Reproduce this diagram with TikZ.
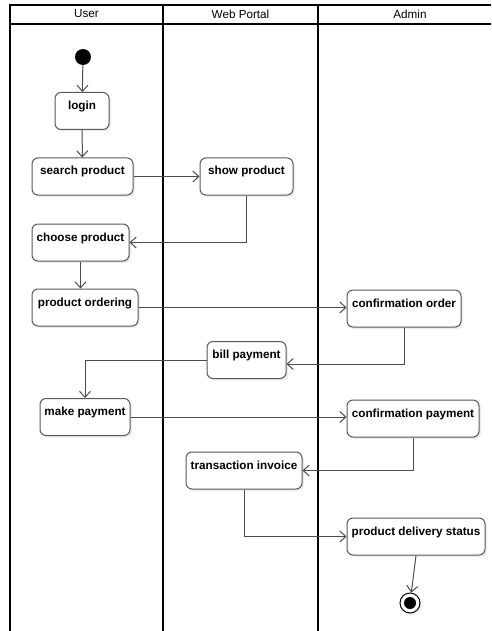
\documentclass[tikz,border=0pt]{standalone}
\usepackage{fontspec}
\setmainfont{Liberation Sans}
\usepackage{tikz}
\usetikzlibrary{arrows.meta,shadows}

\begin{document}
\begin{tikzpicture}[x=1pt, y=-1pt,
    lane/.style={line width=1.8pt, black},
    head/.style={font=\fontsize{11.7}{14}\selectfont, inner sep=0pt},
    act/.style={draw=black!65, line width=1pt, rounded corners=6pt, fill=white,
      drop shadow={opacity=0.15, shadow xshift=2pt, shadow yshift=-2pt},
      font=\fontsize{11.7}{14}\selectfont\bfseries, inner xsep=3pt, inner ysep=3pt,
      text height=14pt, text depth=17pt},
    flow/.style={draw=black!70, line width=1pt, -{Straight Barb[length=6pt,width=11pt]}}]
    \useasboundingbox (0,0) rectangle (491,631);

    % swimlanes
    \draw[lane] (10,631) -- (10,5) -- (491,5);
    \draw[line width=1.2pt] (10,24) -- (491,24);
    \draw[lane] (163,5) -- (163,631);
    \draw[lane] (318,5) -- (318,631);
    \node[head] (huser) at (86.5,14) {User};
    \node[head] (hportal) at (240.5,14) {Web Portal};
    \node[head] (hadmin) at (410,14) {Admin};

    % activities
    \node[circle, fill=black, minimum size=16pt, inner sep=0pt] (start) at (83,57) {};
    \node[act, minimum width=54pt] (login) at (82,111) {login};
    \node[act, minimum width=101pt] (search) at (82.5,176.5) {search product};
    \node[act, minimum width=93pt] (show) at (246.5,176.5) {show product};
    \node[act, minimum width=97pt] (choose) at (80.5,242.5) {choose product};
    \node[act, minimum width=106pt] (ordering) at (85,307.5) {product ordering};
    \node[act, minimum width=114pt] (confo) at (404,308.5) {confirmation order};
    \node[act, minimum width=79pt] (bill) at (246.5,360) {bill payment};
    \node[act, minimum width=90pt] (make) at (85,417) {make payment};
    \node[act, minimum width=132pt] (confp) at (413,418.5) {confirmation payment};
    \node[act, minimum width=116pt] (trans) at (244,470.5) {transaction invoice};
    \node[act, minimum width=138pt] (pds) at (416,536.5) {product delivery status};
    \node[circle, draw=black, line width=1pt, fill=white, minimum size=20pt, inner sep=0pt,
      drop shadow={opacity=0.15, shadow xshift=2pt, shadow yshift=-2pt}] (end) at (410,603) {};
    \node[circle, fill=black, minimum size=12pt, inner sep=0pt] (endin) at (end) {};

    % flows
    \draw[flow] (start) -- (login);
    \draw[flow] (login) -- (search);
    \draw[flow] (search) -- (show);
    \draw[flow] (show.south) |- (choose.east);
    \draw[flow] (choose.south) -- (choose.south |- ordering.north);
    \draw[flow] (ordering.east) -- (ordering.east -| confo.west);
    \draw[flow] (confo.south) |- ([yshift=-4pt]bill.east);
    \draw[flow] (bill.west) -| (make.north);
    \draw[flow] (make.east) -- (make.east -| confp.west);
    \draw[flow] (confp.south) |- (trans.east);
    \draw[flow] (trans.south) |- (pds.west);
    \draw[flow] (pds.south) -- (end);
\end{tikzpicture}
\end{document}
